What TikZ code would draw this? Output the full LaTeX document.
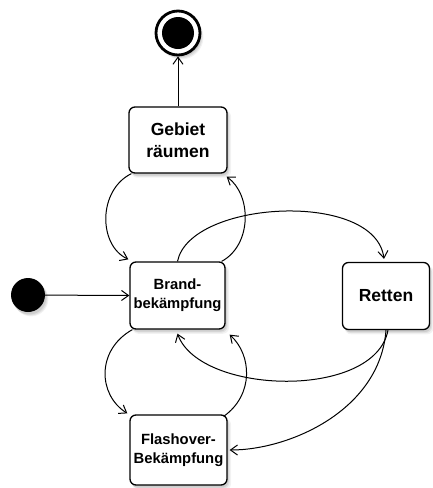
\documentclass[tikz,border=0pt]{standalone}
\usepackage{fontspec}
\setmainfont{Liberation Sans}
\usetikzlibrary{arrows.meta,shadows,calc}
\tikzset{
  soft shadow/.style={
    drop shadow={shadow xshift=3pt, shadow yshift=-4pt, shadow scale=1.02, opacity=0.10},
    drop shadow={shadow xshift=2.5pt, shadow yshift=-3.5pt, opacity=0.15},
    drop shadow={shadow xshift=1.5pt, shadow yshift=-2.5pt, opacity=0.2}},
  state/.style={draw, line width=1.3pt, rounded corners=6pt, fill=white, align=center,
    soft shadow},
  bigtext/.style={font=\bfseries\fontsize{17.5}{21.5}\selectfont},
  smalltext/.style={font=\bfseries\fontsize{14.8}{19}\selectfont},
  trans/.style={line width=1pt, -{Straight Barb[length=7pt,width=10pt,line width=1pt]}},
}
\begin{document}
\begin{tikzpicture}[x=1pt,y=-1pt]
\useasboundingbox (0,0) rectangle (433,488);

% states
\node[state, bigtext, minimum width=98pt, minimum height=66pt] (gr) at (178,140) {Gebiet\\räumen};
\node[state, smalltext, minimum width=95pt, minimum height=67pt] (bk) at (177.5,295.5) {Brand-\\bekämpfung};
\node[state, bigtext, minimum width=87pt, minimum height=67pt] (rt) at (386,296) {Retten};
\node[state, smalltext, minimum width=97pt, minimum height=70pt] (fb) at (178.5,450) {Flashover-\\Bekämpfung};

% initial and final pseudo states
\node[circle, fill=black, minimum size=34pt, inner sep=0pt, soft shadow] (init) at (28,295) {};
\node[circle, draw, line width=2.8pt, fill=white, minimum size=44pt, inner sep=0pt, soft shadow] (fin) at (178,33) {};
\fill (fin.center) circle (16pt);

% transitions
\draw[trans] (init) -- (bk.west);
\draw[trans] (gr.north) -- (fin.south);

\draw[trans] ([xshift=3pt]gr.south west) .. controls (98,190) and (98,245) .. ([xshift=-1pt,yshift=2pt]bk.north west);
\draw[trans] ([xshift=-4pt]bk.north east) .. controls (252,245) and (252,195) .. ([xshift=-1pt,yshift=-3pt]gr.south east);

\draw[trans] (bk.north) .. controls (190,200) and (375,190) .. ([xshift=-2pt,yshift=3pt]rt.north);
\draw[trans] ([xshift=2pt]rt.south) .. controls (375,400) and (200,395) .. ([yshift=-4pt]bk.south);

\draw[trans] ([xshift=3pt]bk.south west) .. controls (96,350) and (98,395) .. ([xshift=-2pt,yshift=1pt]fb.north west);
\draw[trans] ([xshift=-4pt,yshift=-2pt]fb.north east) .. controls (254,395) and (252,355) .. ([xshift=4pt,yshift=-5pt]bk.south east);

\draw[trans] (rt.south) .. controls (380,410) and (290,450) .. ([xshift=2pt]fb.east);
\end{tikzpicture}
\end{document}
